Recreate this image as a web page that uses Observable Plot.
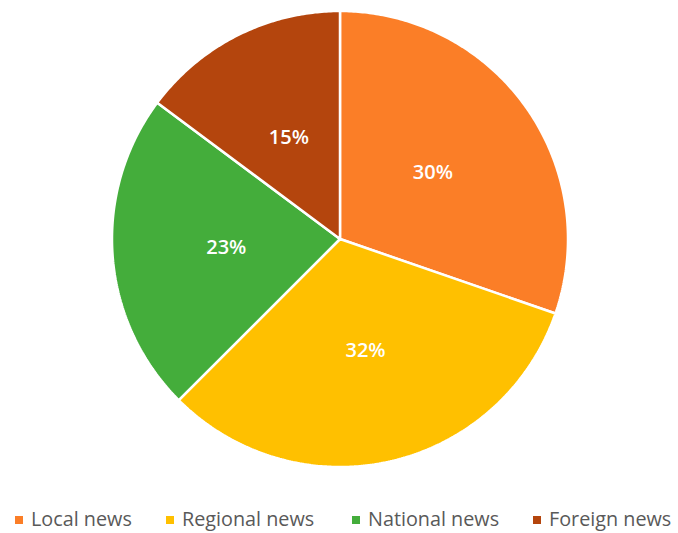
<!DOCTYPE html>
<html>
<head>
<meta charset="utf-8">
<script src="https://cdn.jsdelivr.net/npm/d3@7"></script>
<script src="https://cdn.jsdelivr.net/npm/@observablehq/plot@0.6"></script>
<style>
  html, body { margin: 0; padding: 0; background: #fff; }
  #wrap { position: relative; width: 678px; height: 533px; }
  #legend { position: absolute; left: 0; top: 507px; width: 678px; height: 24px;
    font-family: "Open Sans", sans-serif; font-size: 19.8px; color: #595959; }
  .item { position: absolute; top: 0; white-space: nowrap; line-height: 24px; }
  .sw { display: inline-block; width: 8px; height: 8px; margin-right: 8px; vertical-align: 2px; }
</style>
</head>
<body>
<div id="wrap"><div id="chart"></div><div id="legend"></div></div>
<script>
const categories = ["Local news", "Regional news", "National news", "Foreign news"];
const shares = [30.3, 32.2, 22.7, 14.8];
const labels = ["30%", "32%", "23%", "15%"];
const colors = ["#FB7E27", "#FFC000", "#44AD3B", "#B4450D"];
const legendLeft = [15, 166, 352, 533];

const pie = d3.pie().sort(null).value(d => d.value)(
  categories.map((c, i) => ({category: c, value: shares[i], label: labels[i]}))
);

// polygon vertices for each slice (angles from top, clockwise)
const polys = [];
for (const p of pie) {
  polys.push({category: p.data.category, x: 0, y: 0});
  const n = Math.max(8, Math.ceil((p.endAngle - p.startAngle) / 0.01));
  for (let k = 0; k <= n; k++) {
    const a = p.startAngle + (p.endAngle - p.startAngle) * k / n;
    polys.push({category: p.data.category, x: Math.sin(a), y: Math.cos(a)});
  }
  polys.push({category: p.data.category, x: 0, y: 0});
}
const labelPts = pie.map(p => {
  const a = (p.startAngle + p.endAngle) / 2;
  return {label: p.data.label, x: 0.5 * Math.sin(a), y: 0.5 * Math.cos(a)};
});

const chart = Plot.plot({
  width: 678,
  height: 490,
  marginLeft: 111.5,
  marginRight: 110.5,
  marginTop: 10.5,
  marginBottom: 23.5,
  x: {domain: [-1, 1], axis: null},
  y: {domain: [-1, 1], axis: null},
  color: {domain: categories, range: colors},
  marks: [
    Plot.line(polys, {x: "x", y: "y", z: "category", fill: "category",
      stroke: "white", strokeWidth: 2.5, strokeLinejoin: "miter", curve: "linear"}),
    Plot.text(labelPts, {x: "x", y: "y", text: "label", fill: "white",
      fontSize: 20, fontWeight: 600, fontFamily: "Open Sans"})
  ]
});
document.getElementById("chart").appendChild(chart);

const legend = document.getElementById("legend");
categories.forEach((c, i) => {
  const it = document.createElement("div");
  it.className = "item";
  it.style.left = legendLeft[i] + "px";
  it.innerHTML = `<span class="sw" style="background:${colors[i]}"></span>${c}`;
  legend.appendChild(it);
});
</script>
</body>
</html>
